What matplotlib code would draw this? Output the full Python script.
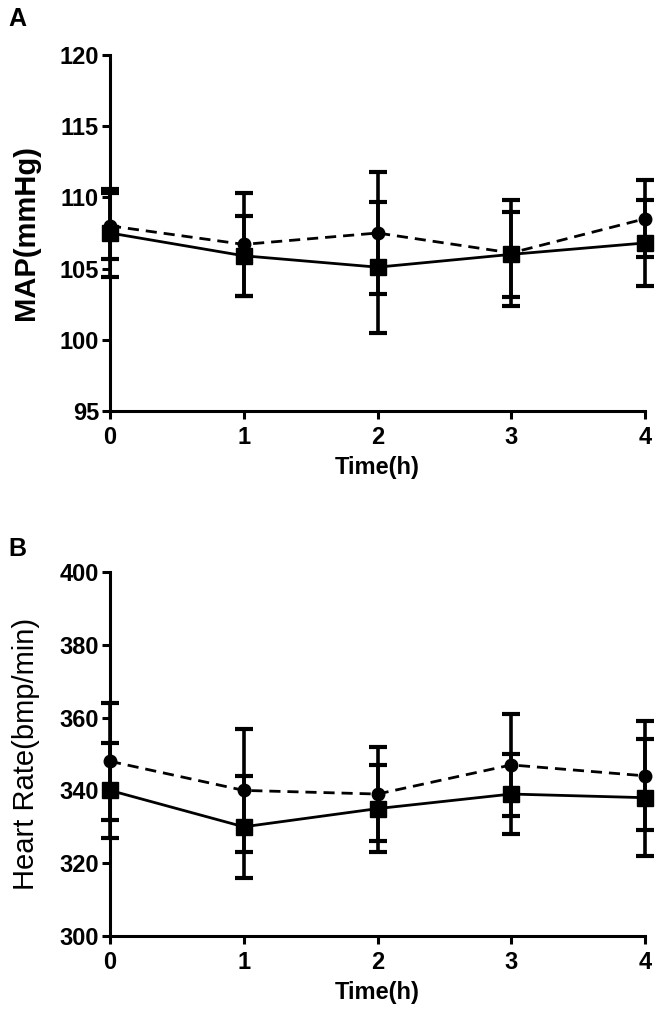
import matplotlib
matplotlib.use("Agg")
import matplotlib.pyplot as plt

plt.rcParams['font.family'] = ['Liberation Sans', 'DejaVu Sans']
plt.rcParams['font.weight'] = 'bold'

time_h = [0, 1, 2, 3, 4]

# Panel A: MAP (mmHg)
map_circle = [108.0, 106.7, 107.5, 106.1, 108.5]
map_circle_err = [2.3, 3.6, 4.3, 3.7, 2.7]
map_square = [107.5, 105.9, 105.1, 106.0, 106.8]
map_square_err = [3.1, 2.8, 4.6, 3.0, 3.0]

# Panel B: Heart Rate (bmp/min)
hr_circle = [348, 340, 339, 347, 344]
hr_circle_err = [16, 17, 13, 14, 15]
hr_square = [340, 330, 335, 339, 338]
hr_square_err = [13, 14, 12, 11, 16]

x_ticks = [0, 1, 2, 3, 4]
a_yticks = [95, 100, 105, 110, 115, 120]
b_yticks = [300, 320, 340, 360, 380, 400]

W, H = 663, 1028
fig = plt.figure(figsize=(W / 100, H / 100), dpi=100)

def px_axes(left, top, right, bottom):
    return fig.add_axes([left / W, 1 - bottom / H, (right - left) / W, (bottom - top) / H])

axA = px_axes(110, 55, 645, 411)
axB = px_axes(110, 572, 645, 936)

def draw(ax, yc, ec, ys, es, yticks, ylabel, ylabel_weight):
    ax.errorbar(time_h, yc, yerr=ec, color='black', linestyle=(0, (4, 2.5)), linewidth=2.0,
                marker='o', markersize=9, elinewidth=2.6, capsize=6.5, capthick=3, clip_on=False, zorder=3)
    ax.errorbar(time_h, ys, yerr=es, color='black', linestyle='-', linewidth=2.0,
                marker='s', markersize=11, elinewidth=2.6, capsize=6.5, capthick=3, clip_on=False, zorder=4)
    ax.set_xlim(0, 4)
    ax.set_ylim(yticks[0], yticks[-1])
    ax.set_xticks(x_ticks)
    ax.set_yticks(yticks)
    for s in ['top', 'right']:
        ax.spines[s].set_visible(False)
    for s in ['left', 'bottom']:
        ax.spines[s].set_linewidth(2.2)
    ax.tick_params(direction='out', length=6, width=2.2, labelsize=17)
    ax.tick_params(axis='x', pad=5)
    ax.tick_params(axis='y', pad=2)
    for lab in ax.get_xticklabels() + ax.get_yticklabels():
        lab.set_fontweight('bold')
    ax.set_xlabel('Time(h)', fontsize=17, fontweight='bold', labelpad=5)
    ax.set_ylabel(ylabel, fontsize=21, fontweight=ylabel_weight)
    ax.yaxis.set_label_coords((40 - 110) / 535, 0.5)

draw(axA, map_circle, map_circle_err, map_square, map_square_err, a_yticks, 'MAP(mmHg)', 'bold')
draw(axB, hr_circle, hr_circle_err, hr_square, hr_square_err, b_yticks, 'Heart Rate(bmp/min)', 'normal')

fig.text(8 / W, 1 - 19 / H, 'A', fontsize=18, fontweight='bold', va='center', ha='left')
fig.text(8 / W, 1 - 549 / H, 'B', fontsize=18, fontweight='bold', va='center', ha='left')

fig.savefig('out.png', dpi=100)
